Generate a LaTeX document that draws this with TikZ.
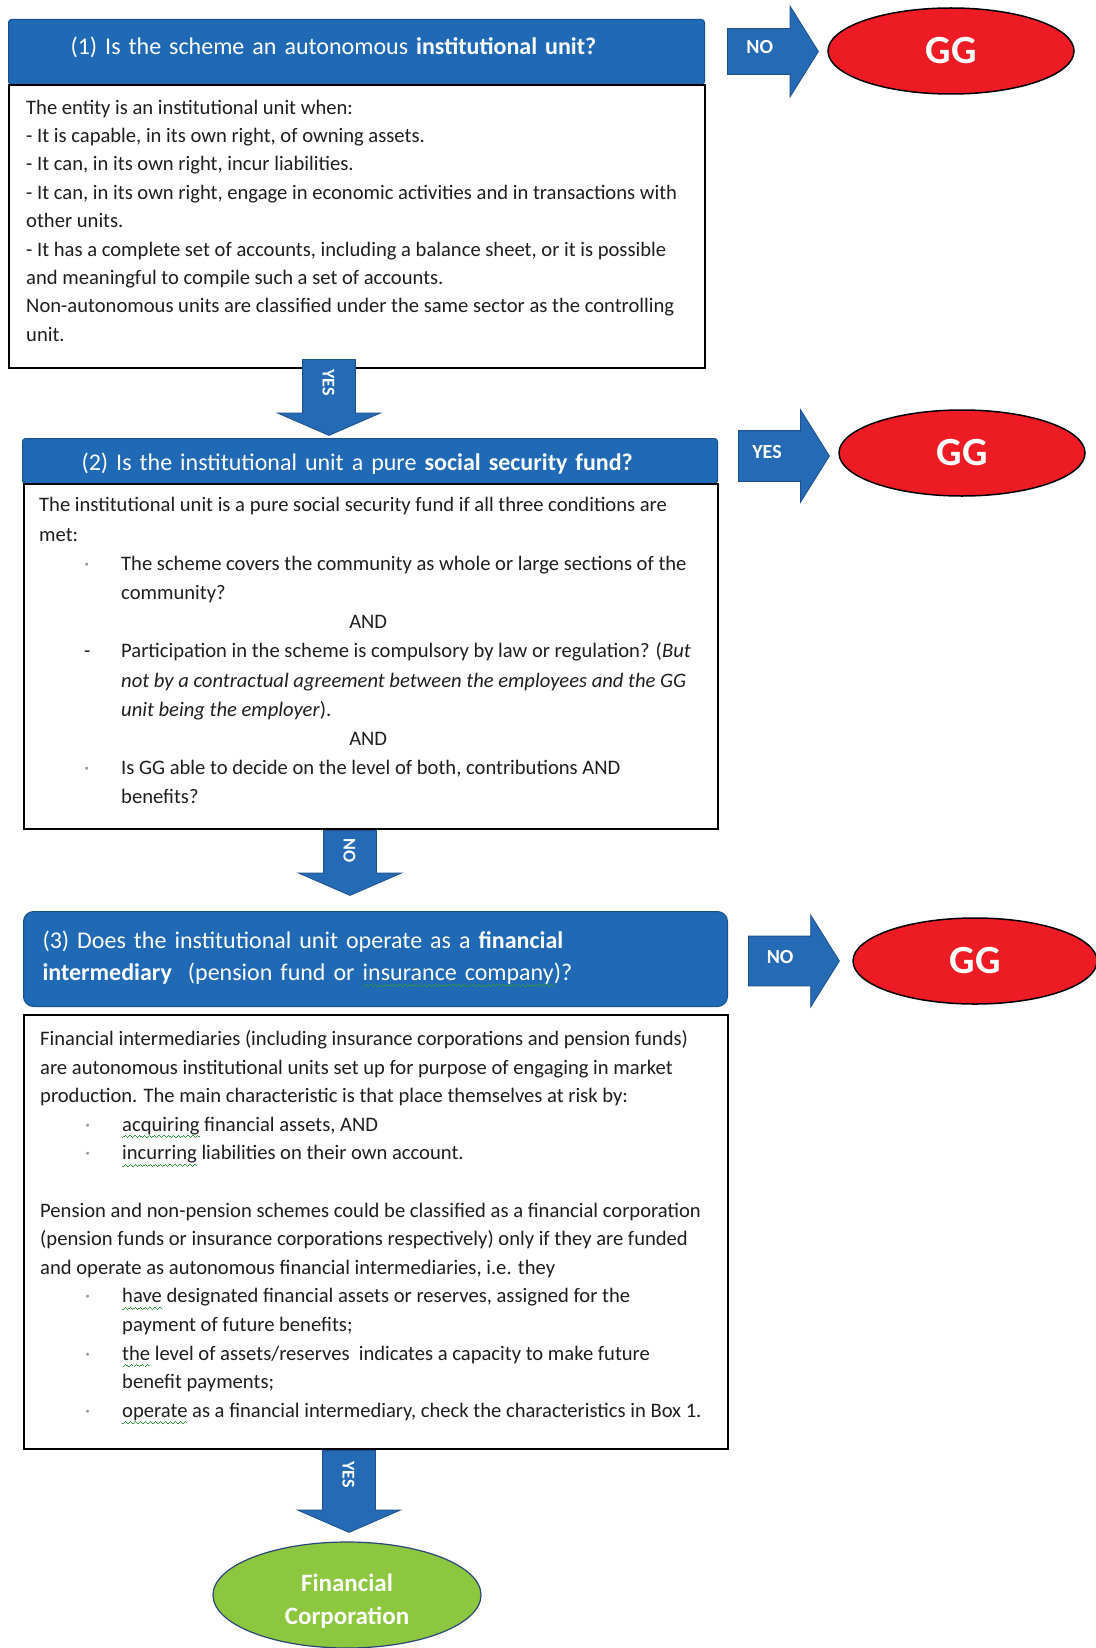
\documentclass[tikz,border=0pt]{standalone}
\usepackage{fontspec}
\setmainfont{Carlito}
\usetikzlibrary{shapes.geometric,shapes.arrows}

\definecolor{headblue}{RGB}{31,105,181}
\definecolor{headedge}{RGB}{24,80,140}
\definecolor{arrowblue}{RGB}{36,106,180}
\definecolor{arrowedge}{RGB}{30,80,140}
\definecolor{ggred}{RGB}{237,28,36}
\definecolor{fcgreen}{RGB}{141,198,63}
\definecolor{fcedge}{RGB}{40,70,120}
\definecolor{textgray}{RGB}{30,30,30}
\definecolor{dotgray}{RGB}{150,150,150}
\definecolor{sqgreen}{RGB}{50,150,60}

\newsavebox{\sqbox}
\newcommand{\sq}[1]{\sbox{\sqbox}{#1}\rlap{\textcolor{sqgreen}{\hbox to \wd\sqbox{\xleaders\hbox{%
  \rule[-7pt]{1.2pt}{1.3pt}\rule[-6pt]{1.2pt}{1.3pt}\rule[-5pt]{1.2pt}{1.3pt}\rule[-6pt]{1.2pt}{1.3pt}}\hfil}}}#1}
\newcommand{\itm}[2]{\hspace*{45pt}\makebox[37pt][l]{#1}#2}
\newcommand{\ind}{\hspace*{82pt}}
\newcommand{\dotb}{\textcolor{dotgray}{·}}

\tikzset{
  headbox/.style={fill=headblue, draw=headedge, line width=1pt, anchor=north west,
    align=left, text=white, font=\fontsize{24}{32}\selectfont, inner ysep=0pt},
  bodybox/.style={draw=black, line width=1.8pt, fill=white, anchor=north west},
  bodytext/.style={anchor=north west, inner sep=0pt, align=left, text=textgray,
    font=\fontsize{20.6}{28.4}\selectfont},
  ggnode/.style={ellipse, fill=ggred, draw=black, line width=1.5pt,
    minimum width=246pt, minimum height=86pt, inner sep=0pt, text=white,
    font=\fontsize{40}{40}\selectfont\bfseries},
  sidearrow/.style={single arrow, fill=arrowblue, draw=arrowedge, line width=0.8pt,
    single arrow head extend=22.5pt, single arrow tip angle=116,
    text height=14pt, text depth=10pt, inner ysep=10.5pt, inner xsep=0pt,
    minimum height=91pt, anchor=tail,
    text=white, font=\fontsize{20}{20}\selectfont\bfseries},
  downarrow/.style={single arrow, rotate=-90, fill=arrowblue, draw=arrowedge,
    line width=0.8pt, single arrow head extend=25pt, single arrow tip angle=133,
    text height=13pt, text depth=0pt, inner ysep=19.5pt, inner xsep=0pt, anchor=tail,
    text=white, font=\fontsize{18}{18}\selectfont\bfseries}
}

\begin{document}
\begin{tikzpicture}[x=1pt, y=-1pt]
    \useasboundingbox (0,0) rectangle (1095,1648);

    % question 1
    \node[headbox, rounded corners=3pt, inner xsep=62pt, text width=572pt,
      text depth=13pt, minimum height=65pt] (head1) at (8,19)
      {(1) Is the scheme an autonomous \textbf{institutional unit?}};
    \node[bodybox, minimum width=696pt, minimum height=283pt] (body1) at (8,84) {};
    \node[bodytext] (text1) at (26,99.5) {The entity is an institutional unit when:\\
      - It is capable, in its own right, of owning assets.\\
      - It can, in its own right, incur liabilities.\\
      - It can, in its own right, engage in economic activities and in transactions with\\
      other units.\\
      - It has a complete set of accounts, including a balance sheet, or it is possible\\
      and meaningful to compile such a set of accounts.\\
      Non-autonomous units are classified under the same sector as the controlling\\
      unit.};

    \node[sidearrow] (no1) at (727,51.5) {NO\hspace*{12pt}};
    \node[ggnode] (gg1) at (951,51) {GG};

    \node[downarrow, minimum height=76pt] (yes1) at (329,359) {YES\hspace*{18pt}};

    % question 2
    \node[headbox, rounded corners=3pt, inner xsep=59pt, text width=577pt,
      text height=23pt, minimum height=45pt] (head2) at (22,438)
      {(2) Is the institutional unit a pure \textbf{social security fund?}};
    \node[bodybox, minimum width=694pt, minimum height=345pt] (body2) at (23,483) {};
    \node[bodytext, font=\fontsize{20.6}{29.2}\selectfont] (text2) at (39,497.3)
      {The institutional unit is a pure social security fund if all three conditions are\\
      met:\\
      \itm{\dotb}{The scheme covers the community as whole or large sections of the}\\
      \ind community?\\
      \makebox[658pt]{AND}\\
      \itm{-}{Participation in the scheme is compulsory by law or regulation? (\textit{But}}\\
      \ind\textit{not by a contractual agreement between the employees and the GG}\\
      \ind\textit{unit being the employer}).\\
      \makebox[658pt]{AND}\\
      \itm{\dotb}{Is GG able to decide on the level of both, contributions AND}\\
      \ind benefits?};

    \node[sidearrow, single arrow head extend=21pt, inner ysep=13pt] (yes2) at (738,456) {YES\hspace*{18pt}};
    \node[ggnode] (gg2) at (962,453) {GG};

    \node[downarrow, minimum height=65pt] (no2) at (350,830) {NO\hspace*{14pt}};

    % question 3
    \node[headbox, rounded corners=10pt, inner xsep=19pt, text width=666pt,
      minimum height=95pt] (head3) at (23,911)
      {(3) Does the institutional unit operate as a \textbf{financial}\\
      \textbf{intermediary}~~(pension fund or \sq{insurance company})?};
    \node[bodybox, minimum width=704pt, minimum height=434pt] (body3) at (23,1014) {};
    \node[bodytext, font=\fontsize{20.6}{28.6}\selectfont] (text3) at (40,1030.3)
      {Financial intermediaries (including insurance corporations and pension funds)\\
      are autonomous institutional units set up for purpose of engaging in market\\
      production. The main characteristic is that place themselves at risk by:\\
      \itm{\dotb}{\sq{acquiring} financial assets, AND}\\
      \itm{\dotb}{\sq{incurring} liabilities on their own account.}\\
      \mbox{}\\
      Pension and non-pension schemes could be classified as a financial corporation\\
      (pension funds or insurance corporations respectively) only if they are funded\\
      and operate as autonomous financial intermediaries, i.e. they\\
      \itm{\dotb}{\sq{have} designated financial assets or reserves, assigned for the}\\
      \ind payment of future benefits;\\
      \itm{\dotb}{\sq{the} level of assets/reserves~ indicates a capacity to make future}\\
      \ind benefit payments;\\
      \itm{\dotb}{\sq{operate} as a financial intermediary, check the characteristics in Box 1.}};

    \node[sidearrow, single arrow head extend=21pt, inner ysep=12.5pt] (no3) at (748,961) {NO\hspace*{12pt}};
    \node[ggnode, minimum width=244pt] (gg3) at (975,961) {GG};

    \node[downarrow, minimum height=82pt] (yes3) at (349,1450) {YES\hspace*{22pt}};

    % final outcome
    \node[ellipse, fill=fcgreen, draw=fcedge, line width=1.2pt, minimum width=268pt,
      minimum height=106pt, align=center, text=white, text height=62pt,
      font=\fontsize{25}{33}\selectfont\bfseries] (fc) at (347,1595) {Financial\\Corporation};
\end{tikzpicture}
\end{document}
